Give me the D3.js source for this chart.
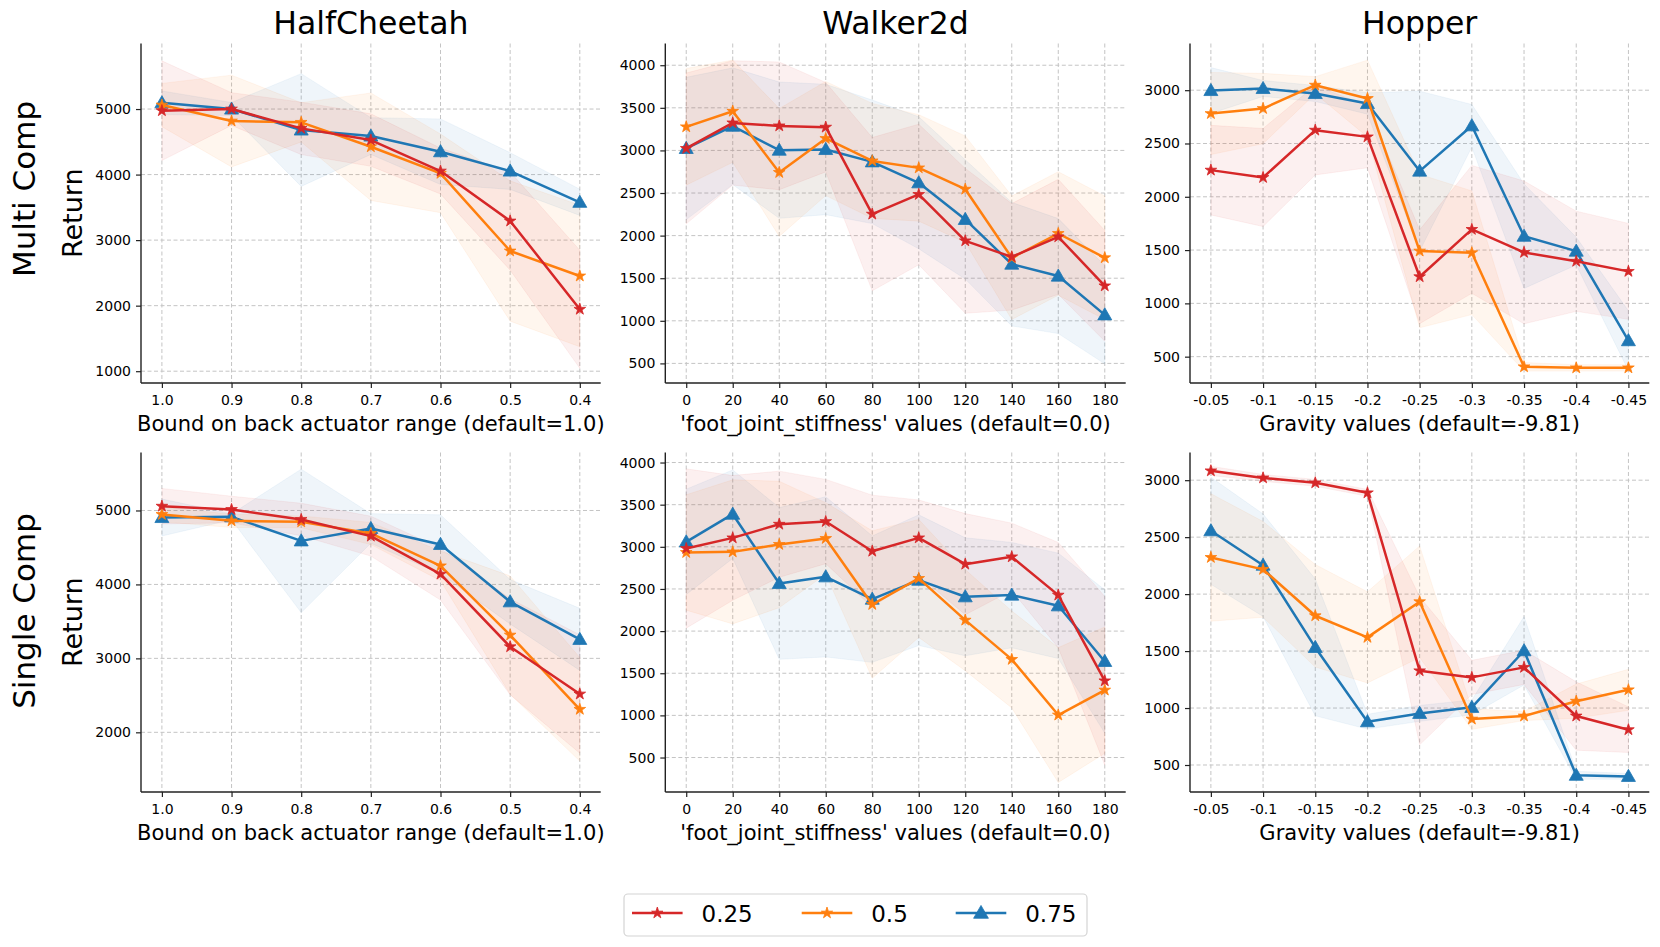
<!DOCTYPE html>
<html>
<head>
<meta charset="utf-8">
<script src="https://cdn.jsdelivr.net/npm/d3@7"></script>
<style>
body { margin: 0; background: #fff; }
text { font-family: "DejaVu Sans", sans-serif; fill: #000; }
</style>
</head>
<body>
<svg id="chart" width="1660" height="947"></svg>
<script>
// x values / tick labels
const hcX = [1.0, 0.9, 0.8, 0.7, 0.6, 0.5, 0.4]
const hcTickLabels = ["1.0", "0.9", "0.8", "0.7", "0.6", "0.5", "0.4"]
const walkerX = [0, 20, 40, 60, 80, 100, 120, 140, 160, 180]
const walkerTickLabels = ["0", "20", "40", "60", "80", "100", "120", "140", "160", "180"]
const hopperX = [-0.05, -0.1, -0.15, -0.2, -0.25, -0.3, -0.35, -0.4, -0.45]
const hopperTickLabels = ["-0.05", "-0.1", "-0.15", "-0.2", "-0.25", "-0.3", "-0.35", "-0.4", "-0.45"]

const envNames = ["HalfCheetah", "Walker2d", "Hopper"]
const rowNames = ["Multi Comp", "Single Comp"]
const xLabels = ["Bound on back actuator range (default=1.0)", "'foot_joint_stiffness' values (default=0.0)", "Gravity values (default=-9.81)"]
const seriesNames = ["0.25", "0.5", "0.75"]

// HalfCheetah, Multi Comp
const hcMulti25 = [4975, 5000, 4705, 4527, 4054, 3292, 1945]
const hcMulti25Std = [760, 250, 400, 400, 350, 750, 900]
const hcMulti50 = [5061, 4817, 4797, 4425, 4019, 2834, 2453]
const hcMulti50Std = [330, 700, 300, 820, 600, 1070, 1080]
const hcMulti75 = [5096, 5000, 4680, 4588, 4349, 4054, 3577]
const hcMulti75Std = [180, 100, 860, 280, 500, 280, 200]

// Walker2d, Multi Comp
const wkMulti25 = [3023, 3323, 3288, 3273, 2252, 2483, 1939, 1751, 1986, 1410]
const wkMulti25Std = [885, 730, 750, 525, 900, 825, 850, 625, 675, 650]
const wkMulti50 = [3277, 3460, 2741, 3140, 2877, 2795, 2545, 1740, 2025, 1740]
const wkMulti50Std = [685, 600, 750, 670, 675, 625, 625, 725, 725, 725]
const wkMulti75 = [3023, 3284, 3003, 3011, 2866, 2620, 2190, 1665, 1525, 1070]
const wkMulti75Std = [835, 685, 800, 765, 725, 775, 700, 725, 675, 575]

// Hopper, Multi Comp
const hpMulti25 = [2250, 2181, 2625, 2562, 1250, 1694, 1478, 1395, 1300]
const hpMulti25Std = [420, 460, 420, 290, 440, 600, 670, 470, 450]
const hpMulti50 = [2781, 2828, 3047, 2922, 1491, 1475, 405, 395, 395]
const hpMulti50Std = [385, 330, 80, 360, 720, 580, 40, 30, 30]
const hpMulti75 = [2997, 3016, 2969, 2875, 2241, 2666, 1630, 1490, 650]
const hpMulti75Std = [215, 75, 75, 100, 750, 200, 490, 130, 280]

// HalfCheetah, Single Comp
const hcSingle25 = [5058, 5013, 4878, 4653, 4139, 3157, 2518]
const hcSingle25Std = [240, 180, 220, 270, 350, 650, 800]
const hcSingle50 = [4946, 4860, 4846, 4689, 4251, 3315, 2311]
const hcSingle50Std = [100, 90, 80, 150, 200, 800, 700]
const hcSingle75 = [4905, 4914, 4589, 4757, 4541, 3765, 3257]
const hcSingle75Std = [250, 40, 970, 200, 400, 300, 420]

// Walker2d, Single Comp
const wkSingle25 = [2980, 3106, 3268, 3300, 2948, 3106, 2794, 2881, 2427, 1410]
const wkSingle25Std = [945, 740, 630, 500, 665, 450, 600, 400, 625, 1000]
const wkSingle50 = [2933, 2940, 3028, 3099, 2316, 2625, 2130, 1664, 1004, 1300]
const wkSingle50Std = [685, 855, 750, 425, 875, 700, 600, 575, 800, 750]
const wkSingle75 = [3059, 3387, 2565, 2644, 2379, 2604, 2407, 2427, 2300, 1640]
const wkSingle75Std = [625, 525, 900, 950, 750, 775, 700, 625, 625, 850]

// Hopper, Single Comp
const hpSingle25 = [3082, 3020, 2977, 2889, 1327, 1269, 1357, 930, 810]
const hpSingle25Std = [40, 30, 30, 30, 650, 150, 150, 300, 200]
const hpSingle50 = [2322, 2217, 1810, 1620, 1933, 903, 930, 1060, 1160]
const hpSingle50Std = [560, 420, 450, 400, 490, 90, 40, 150, 180]
const hpSingle75 = [2556, 2254, 1532, 880, 953, 1006, 1503, 410, 400]
const hpSingle75Std = [470, 450, 600, 65, 70, 65, 300, 35, 25]

const colors = ["#d62728", "#ff7f0e", "#1f77b4"]

const cols = [[141, 600.7], [665.3, 1125.7], [1190, 1649.3]]
const rows = [[43.5, 383], [452.5, 792]]
const rowLabelY = [189, 611]

const svg = d3.select("#chart")
svg.append("rect").attr("width", 1660).attr("height", 947).attr("fill", "#fff")

const panels = [
    { row: 0, col: 0, x: hcX, ticks: hcTickLabels, y: [820, 6000], yt: [1000, 2000, 3000, 4000, 5000],
      means: [hcMulti25, hcMulti50, hcMulti75], stds: [hcMulti25Std, hcMulti50Std, hcMulti75Std] },
    { row: 0, col: 1, x: walkerX, ticks: walkerTickLabels, y: [270, 4255], yt: d3.range(500, 4001, 500),
      means: [wkMulti25, wkMulti50, wkMulti75], stds: [wkMulti25Std, wkMulti50Std, wkMulti75Std] },
    { row: 0, col: 2, x: hopperX, ticks: hopperTickLabels, y: [253, 3438], yt: d3.range(500, 3001, 500),
      means: [hpMulti25, hpMulti50, hpMulti75], stds: [hpMulti25Std, hpMulti50Std, hpMulti75Std] },
    { row: 1, col: 0, x: hcX, ticks: hcTickLabels, y: [1193, 5784], yt: [2000, 3000, 4000, 5000],
      means: [hcSingle25, hcSingle50, hcSingle75], stds: [hcSingle25Std, hcSingle50Std, hcSingle75Std] },
    { row: 1, col: 1, x: walkerX, ticks: walkerTickLabels, y: [91, 4119], yt: d3.range(500, 4001, 500),
      means: [wkSingle25, wkSingle50, wkSingle75], stds: [wkSingle25Std, wkSingle50Std, wkSingle75Std] },
    { row: 1, col: 2, x: hopperX, ticks: hopperTickLabels, y: [263, 3243], yt: d3.range(500, 3001, 500),
      means: [hpSingle25, hpSingle50, hpSingle75], stds: [hpSingle25Std, hpSingle50Std, hpSingle75Std] }
]

panels.forEach(drawPanel)
drawLabels()
drawLegend()

function markerPath(i, big) {
    if (i == 2) return d3.symbol().type(d3.symbolTriangle).size(big ? 95 : 85)()
    return d3.symbol().type(d3.symbolStar).size(big ? 40 : 42)()
}

function drawPanel(p) {
    let [x0, x1] = cols[p.col]
    let [y0, y1] = rows[p.row]
    let first = p.x[0], last = p.x[p.x.length - 1]
    let pad = (last - first) * 0.05
    let x = d3.scaleLinear().domain([first - pad, last + pad]).range([x0, x1])
    let y = d3.scaleLinear().domain(p.y).range([y1, y0])
    let g = svg.append("g")

    // grid
    g.selectAll(".gx").data(p.x).join("line")
        .attr("x1", d => x(d)).attr("x2", d => x(d))
        .attr("y1", y0).attr("y2", y1)
        .attr("stroke", "#c4c4c4").attr("stroke-width", 1).attr("stroke-dasharray", "4,2.5")
    g.selectAll(".gy").data(p.yt).join("line")
        .attr("x1", x0).attr("x2", x1)
        .attr("y1", d => y(d)).attr("y2", d => y(d))
        .attr("stroke", "#c4c4c4").attr("stroke-width", 1).attr("stroke-dasharray", "4,2.5")

    // std bands
    let order = [2, 1, 0]
    order.forEach(i => {
        let pts = p.x.map((xv, j) => [xv, p.means[i][j], p.stds[i][j]])
        let area = d3.area()
            .x(d => x(d[0]))
            .y0(d => y(d[1] - d[2]))
            .y1(d => y(d[1] + d[2]))
        g.append("path").datum(pts).attr("d", area)
            .attr("fill", colors[i]).attr("fill-opacity", 0.07)
            .attr("stroke", colors[i]).attr("stroke-opacity", 0.06)
    })

    // lines + markers
    order.forEach(i => {
        let pts = p.x.map((xv, j) => [xv, p.means[i][j]])
        let line = d3.line().x(d => x(d[0])).y(d => y(d[1]))
        g.append("path").datum(pts).attr("d", line)
            .attr("fill", "none").attr("stroke", colors[i]).attr("stroke-width", 2.5)
            .attr("stroke-linejoin", "round")
        g.selectAll(".m" + i).data(pts).join("path")
            .attr("d", markerPath(i, false))
            .attr("transform", d => "translate(" + x(d[0]) + "," + (y(d[1]) + (i == 2 ? 1 : 0)) + ")")
            .attr("fill", colors[i]).attr("stroke", colors[i]).attr("stroke-width", 0.8)
    })

    // axes
    let xAxis = d3.axisBottom(x).tickValues(p.x).tickFormat((d, j) => p.ticks[j]).tickSize(5).tickPadding(7)
    let gx = svg.append("g").attr("transform", "translate(0," + y1 + ")").call(xAxis)
    gx.select(".domain").attr("d", "M" + x0 + ",0H" + x1)
    let yAxis = d3.axisLeft(y).tickValues(p.yt).tickFormat(d3.format("d")).tickSize(5).tickPadding(5)
    let gy = svg.append("g").attr("transform", "translate(" + x0 + ",0)").call(yAxis)
    gy.select(".domain").attr("d", "M0," + y0 + "V" + y1)
    ;[gx, gy].forEach(a => {
        a.select(".domain").attr("stroke", "#222").attr("stroke-width", 1.4)
        a.selectAll(".tick line").attr("stroke", "#222").attr("stroke-width", 1.2)
        a.selectAll(".tick text").attr("font-size", 14).attr("font-family", "DejaVu Sans").attr("fill", "#111")
    })

    // x label
    svg.append("text")
        .attr("x", (x0 + x1) / 2).attr("y", y1 + 48)
        .attr("text-anchor", "middle").attr("font-size", 21)
        .text(xLabels[p.col])
}

function drawLabels() {
    cols.forEach((c, i) => {
        svg.append("text")
            .attr("x", (c[0] + c[1]) / 2).attr("y", 34)
            .attr("text-anchor", "middle").attr("font-size", 31.5)
            .text(envNames[i])
    })
    rows.forEach((r, i) => {
        let cy = (r[0] + r[1]) / 2
        svg.append("text")
            .attr("transform", "translate(35," + rowLabelY[i] + ") rotate(-90)")
            .attr("text-anchor", "middle").attr("font-size", 31)
            .text(rowNames[i])
        svg.append("text")
            .attr("transform", "translate(82," + cy + ") rotate(-90)")
            .attr("text-anchor", "middle").attr("font-size", 27)
            .text("Return")
    })
}

function drawLegend() {
    let lg = svg.append("g")
    lg.append("rect")
        .attr("x", 624).attr("y", 894).attr("width", 463).attr("height", 42).attr("rx", 4)
        .attr("fill", "#fff").attr("stroke", "#d4d4d4").attr("stroke-width", 1.2)
    let starts = [632, 801.7, 955.7]
    seriesNames.forEach((name, i) => {
        let sx = starts[i]
        lg.append("line")
            .attr("x1", sx).attr("x2", sx + 50.6).attr("y1", 913).attr("y2", 913)
            .attr("stroke", colors[i]).attr("stroke-width", 2.5)
        lg.append("path")
            .attr("d", markerPath(i, true))
            .attr("transform", "translate(" + (sx + 25.3) + "," + (913 + (i == 2 ? 1 : 0)) + ")")
            .attr("fill", colors[i]).attr("stroke", colors[i]).attr("stroke-width", 0.8)
        lg.append("text")
            .attr("x", sx + 69.5).attr("y", 921.5)
            .attr("font-size", 23)
            .text(name)
    })
}
</script>
</body>
</html>
